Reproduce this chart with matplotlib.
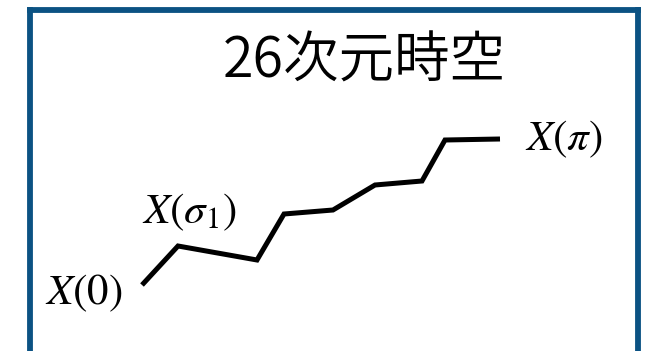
import matplotlib
matplotlib.use("Agg")
import matplotlib.pyplot as plt

plt.rcParams["mathtext.fontset"] = "stix"
plt.rcParams["font.family"] = ["Noto Sans CJK JP", "DejaVu Sans"]

# path of the string through spacetime (pixel-like units, y up)
path_x = [142, 178, 257, 284, 333, 375, 422, 445, 500]
path_y = [66, 105, 91, 137, 141, 166, 170, 211, 212]

title = "26次元時空"
label_text = [r"$X(0)$", r"$X(\sigma_1)$", r"$X(\pi)$"]
label_x = [123, 142, 525]
label_y = [59, 140, 213]
label_ha = ["right", "left", "left"]

W, H = 645, 351
frame_color = "#0b5283"

fig = plt.figure(figsize=(W / 100, H / 100), dpi=100)

# frame: open at the bottom
frame = fig.add_axes([29.7 / W, -0.2, (638 - 29.7) / W, (H - 9.5) / H + 0.2])
frame.set_xticks([])
frame.set_yticks([])
frame.patch.set_visible(False)
for side in ["left", "right", "top"]:
    frame.spines[side].set_color(frame_color)
    frame.spines[side].set_linewidth(4.2)
frame.spines["bottom"].set_visible(False)

ax = fig.add_axes([0, 0, 1, 1])
ax.set_xlim(0, W)
ax.set_ylim(0, H)
ax.axis("off")

ax.plot(path_x, path_y, color="black", linewidth=3.6,
        solid_joinstyle="miter", solid_capstyle="butt")

for t, x, y, ha in zip(label_text, label_x, label_y, label_ha):
    ax.text(x, y, t, fontsize=31, ha=ha, va="center", color="black")

ax.text(364, H - 61, title, fontsize=40, fontweight=350,
        ha="center", va="center", color="black")

fig.savefig("out.png", dpi=100)
